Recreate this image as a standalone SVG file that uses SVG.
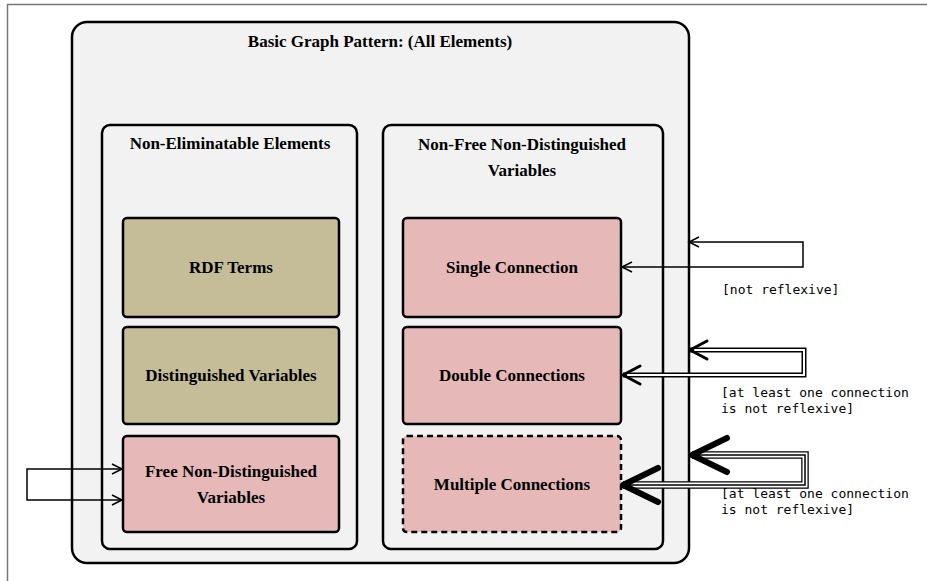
<svg xmlns="http://www.w3.org/2000/svg" width="927" height="581" viewBox="0 0 927 581">
<style>
.frame{fill:none;stroke:#777;stroke-width:1.5}
.outer{fill:#f2f2f2;stroke:#000;stroke-width:2.5}
.sub{fill:#f2f2f2;stroke:#000;stroke-width:2.5}
.tan{fill:#c4bd97;stroke:#000;stroke-width:2.5}
.pink{fill:#e6b8b7;stroke:#000;stroke-width:2.5}
.dash{stroke-dasharray:6 4}
.t{font-family:"Liberation Serif","Times New Roman",serif;font-weight:bold;font-size:17px;fill:#000;text-anchor:middle}
.m{font-family:"DejaVu Sans Mono","Liberation Mono",monospace;font-size:13px;fill:#000}
.ln{fill:none;stroke:#000}
.wh{fill:none;stroke:#fff}
</style>
<defs>
<marker id="a1" markerUnits="userSpaceOnUse" orient="auto-start-reverse" refX="0" refY="0" markerWidth="20" markerHeight="20" viewBox="-18 -10 20 20" overflow="visible">
<path d="M-10,-5 L0,0 L-10,5" fill="none" stroke="#000" stroke-width="1.5"/>
</marker>
<marker id="a2" markerUnits="userSpaceOnUse" orient="auto-start-reverse" refX="0" refY="0" markerWidth="30" markerHeight="30" viewBox="-27 -15 30 30" overflow="visible">
<path d="M-17,-9 L0,0 L-17,9" fill="none" stroke="#000" stroke-width="3" stroke-linecap="round" stroke-linejoin="round"/>
</marker>
<marker id="a3" markerUnits="userSpaceOnUse" orient="auto-start-reverse" refX="0" refY="0" markerWidth="50" markerHeight="50" viewBox="-45 -25 50 50" overflow="visible">
<path d="M-35,-17 L0,0 L-35,17" fill="none" stroke="#000" stroke-width="6" stroke-linecap="round" stroke-linejoin="round"/>
</marker>
</defs>
<path class="frame" d="M7.5,581 V4.5 H927"/>
<g id="bgp">
<rect class="outer" x="72" y="22" width="617" height="541" rx="15"/>
<text class="t" x="380" y="47">Basic Graph Pattern: (All Elements)</text>
</g>
<g id="non-eliminatable">
<rect class="sub" x="102" y="125" width="255" height="424" rx="8"/>
<text class="t" x="230" y="149">Non-Eliminatable Elements</text>
</g>
<g id="non-free">
<rect class="sub" x="383" y="125" width="280" height="424" rx="8"/>
<text class="t" x="522" y="150">Non-Free Non-Distinguished</text>
<text class="t" x="522" y="176">Variables</text>
</g>
<g id="rdf-terms">
<rect class="tan" x="123" y="218" width="216" height="99" rx="4"/>
<text class="t" x="231" y="273">RDF Terms</text>
</g>
<g id="distinguished">
<rect class="tan" x="123" y="327" width="216" height="97" rx="4"/>
<text class="t" x="231" y="381">Distinguished Variables</text>
</g>
<g id="free-ndv">
<rect class="pink" x="123" y="436" width="216" height="96" rx="4"/>
<text class="t" x="231" y="477">Free Non-Distinguished</text>
<text class="t" x="231" y="503">Variables</text>
</g>
<g id="single">
<rect class="pink" x="403" y="218" width="218" height="99" rx="4"/>
<text class="t" x="512" y="273">Single Connection</text>
</g>
<g id="double">
<rect class="pink" x="403" y="327" width="218" height="97" rx="4"/>
<text class="t" x="512" y="381">Double Connections</text>
</g>
<g id="multiple">
<rect class="pink dash" x="403" y="436" width="218" height="96" rx="4"/>
<text class="t" x="512" y="490">Multiple Connections</text>
</g>
<g id="connectors">
<path class="ln" stroke-width="1.5" d="M122,469 H27 V500 H122" marker-start="url(#a1)" marker-end="url(#a1)"/>
<path class="ln" stroke-width="1.5" d="M689,242 H803 V267 H622" marker-start="url(#a1)" marker-end="url(#a1)"/>
<text class="m" x="722" y="294">[not reflexive]</text>
<path class="ln" stroke-width="5" d="M690,350 H804 V375 H623"/>
<path class="wh" stroke-width="2" d="M694,350 H804 V375 H627"/>
<path fill="none" stroke="none" d="M690,350 H804 V375 H623" marker-start="url(#a2)" marker-end="url(#a2)"/>
<text class="m" x="721" y="397">[at least one connection</text>
<text class="m" x="721" y="413">is not reflexive]</text>
<path class="ln" stroke-width="7.5" d="M692,455 H805 V485 H623"/>
<path class="wh" stroke-width="5" d="M700,455 H805 V485 H631"/>
<path class="ln" stroke-width="1.5" d="M700,455 H805 V485 H631"/>
<path fill="none" stroke="none" d="M692,455 H805 V485 H623" marker-start="url(#a3)" marker-end="url(#a3)"/>
<text class="m" x="721" y="498">[at least one connection</text>
<text class="m" x="721" y="514">is not reflexive]</text>
</g>
</svg>
